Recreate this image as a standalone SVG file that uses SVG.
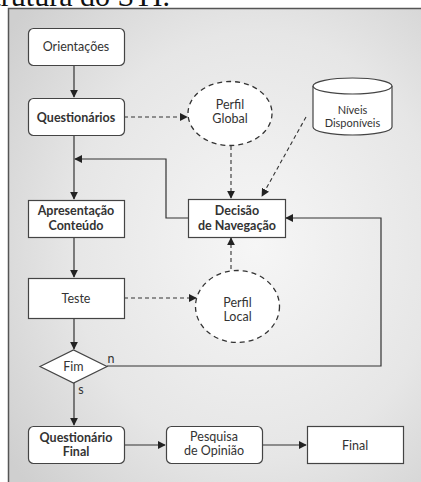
<svg xmlns="http://www.w3.org/2000/svg" width="421" height="482" viewBox="0 0 421 482">
<defs>
<radialGradient id="bg" cx="0.6" cy="0.5" r="0.75">
<stop offset="0" stop-color="#f6f6f6"/>
<stop offset="0.6" stop-color="#e6e6e6"/>
<stop offset="1" stop-color="#cfcfcf"/>
</radialGradient>
<marker id="ah" viewBox="0 0 10 10" refX="9" refY="5" markerWidth="8" markerHeight="8" markerUnits="userSpaceOnUse" orient="auto">
<path d="M0,0 L10,5 L0,10 z" fill="#222"/>
</marker>
</defs>
<style>
.box{fill:#fff;stroke:#444;stroke-width:1.2}
.dash{fill:#fff;stroke:#333;stroke-width:1.3;stroke-dasharray:5 4}
.t{font-family:Lato,"Open Sans",sans-serif;font-size:12.5px;fill:#333;text-anchor:middle}
.b{font-weight:bold}
.s{font-size:11px}
.ln{fill:none;stroke:#333;stroke-width:1.2}
.dl{fill:none;stroke:#333;stroke-width:1.1;stroke-dasharray:4 3}
</style>
<rect x="0" y="0" width="421" height="482" fill="#fff"/>
<text x="170" y="6" font-family="Liberation Serif,serif" font-size="30" text-anchor="end" fill="#111">Estrutura do STI.</text>
<rect x="8" y="8" width="413" height="474" fill="url(#bg)"/>
<path d="M8.5,482 V8.5 H421" fill="none" stroke="#555" stroke-width="1.5"/>

<g id="connectors">
<line class="ln" x1="74" y1="65" x2="74" y2="97" marker-end="url(#ah)"/>
<line class="ln" x1="74" y1="135" x2="74" y2="199" marker-end="url(#ah)"/>
<polyline class="ln" points="188,218 166,218 166,159 75,159" marker-end="url(#ah)"/>
<line class="ln" x1="74" y1="237" x2="74" y2="277" marker-end="url(#ah)"/>
<line class="ln" x1="74" y1="318" x2="74" y2="349" marker-end="url(#ah)"/>
<line class="ln" x1="74" y1="383" x2="74" y2="425" marker-end="url(#ah)"/>
<polyline class="ln" points="107,366 381,366 381,218 286,218" marker-end="url(#ah)"/>
<line class="ln" x1="124" y1="445" x2="165" y2="445" marker-end="url(#ah)"/>
<line class="ln" x1="262" y1="445" x2="306" y2="445" marker-end="url(#ah)"/>
<line class="dl" x1="124" y1="117" x2="187" y2="117" marker-end="url(#ah)"/>
<line class="dl" x1="231" y1="146" x2="231" y2="198" marker-end="url(#ah)"/>
<line class="dl" x1="306" y1="117" x2="262" y2="196" marker-end="url(#ah)"/>
<line class="dl" x1="231" y1="269" x2="231" y2="238" marker-end="url(#ah)"/>
<line class="dl" x1="124" y1="298" x2="196" y2="298" marker-end="url(#ah)"/>
<text class="t" x="111" y="363">n</text>
<text class="t" x="81" y="394">s</text>
</g>

<g id="orientacoes">
<rect class="box" x="28.5" y="28.5" width="96" height="37" rx="5"/>
<text class="t" x="76" y="51">Orientações</text>
</g>
<g id="questionarios">
<rect class="box" x="28.5" y="98.5" width="96" height="37" rx="5"/>
<text class="t b" x="76" y="121.5">Questionários</text>
</g>
<g id="perfil-global">
<ellipse class="dash" cx="230" cy="113.5" rx="42" ry="32"/>
<text class="t" x="230" y="108.5">Perfil</text>
<text class="t" x="230" y="123">Global</text>
</g>
<g id="niveis">
<path class="box" d="M313,86 A39.5,8 0 0 1 392,86 V127 A39.5,8 0 0 1 313,127 Z"/>
<path class="box" d="M313,86 A39.5,8 0 0 0 392,86" fill="none"/>
<text class="t s" x="352.5" y="113.5">Níveis</text>
<text class="t s" x="352.5" y="127">Disponíveis</text>
</g>
<g id="apresentacao">
<rect class="box" x="28.5" y="200.5" width="96" height="37"/>
<text class="t b" x="76" y="215">Apresentação</text>
<text class="t b" x="76" y="229.5">Conteúdo</text>
</g>
<g id="decisao">
<rect class="box" x="188.5" y="199.5" width="97" height="38"/>
<text class="t b" x="237" y="215">Decisão</text>
<text class="t b" x="237" y="229.5">de Navegação</text>
</g>
<g id="teste">
<rect class="box" x="28.5" y="278.5" width="96" height="40"/>
<text class="t" x="76" y="302.5">Teste</text>
</g>
<g id="perfil-local">
<ellipse class="dash" cx="237.5" cy="306.5" rx="42" ry="36"/>
<text class="t" x="237.5" y="306.5">Perfil</text>
<text class="t" x="237.5" y="321">Local</text>
</g>
<g id="fim">
<polygon class="box" points="40,366.5 73.5,350 107,366.5 73.5,383"/>
<text class="t" x="73.5" y="371">Fim</text>
</g>
<g id="questionario-final">
<rect class="box" x="28.5" y="426.5" width="96" height="37" rx="5"/>
<text class="t b" x="76" y="441.5">Questionário</text>
<text class="t b" x="76" y="456">Final</text>
</g>
<g id="pesquisa">
<rect class="box" x="166.5" y="426.5" width="96" height="37" rx="5"/>
<text class="t" x="214" y="440.5">Pesquisa</text>
<text class="t" x="214" y="455">de Opinião</text>
</g>
<g id="final">
<rect class="box" x="307.5" y="426.5" width="96" height="37"/>
<text class="t" x="355" y="449.5">Final</text>
</g>
</svg>
